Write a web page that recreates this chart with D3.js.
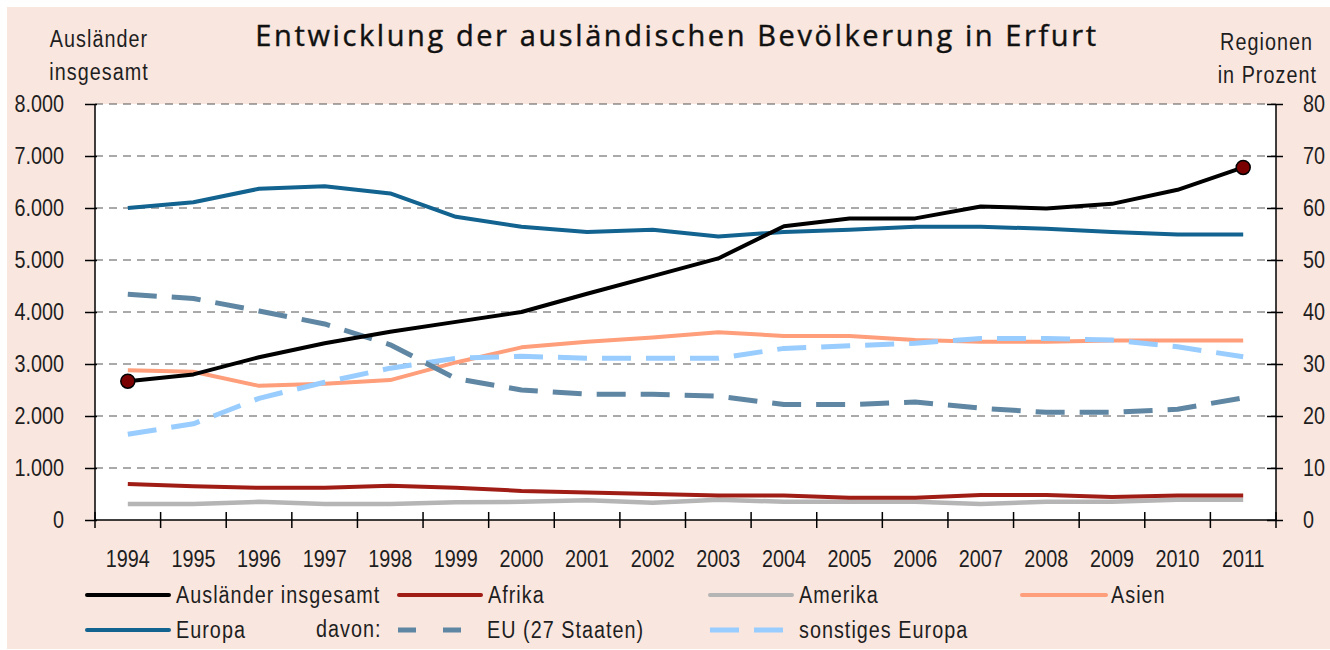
<!DOCTYPE html>
<html>
<head>
<meta charset="utf-8">
<script src="https://cdn.jsdelivr.net/npm/d3@7/dist/d3.min.js"></script>
<style>
  html, body { margin: 0; padding: 0; background: #ffffff; }
  svg { display: block; }
  .cond { font-family: "Liberation Sans", Arial, sans-serif; }
</style>
</head>
<body>
<svg id="chart" width="1330" height="650"></svg>
<script>
// ---------------- data ----------------
const years = [1994, 1995, 1996, 1997, 1998, 1999, 2000, 2001, 2002, 2003, 2004, 2005, 2006, 2007, 2008, 2009, 2010, 2011];
const auslaenderInsgesamt = [2670, 2800, 3130, 3400, 3620, 3810, 4000, 4350, 4690, 5030, 5650, 5800, 5800, 6030, 5990, 6080, 6350, 6780];
const afrika   = [6.9, 6.5, 6.2, 6.2, 6.6, 6.2, 5.6, 5.3, 5.0, 4.7, 4.7, 4.3, 4.3, 4.8, 4.8, 4.4, 4.7, 4.7];
const amerika  = [3.1, 3.1, 3.5, 3.1, 3.1, 3.4, 3.5, 3.8, 3.3, 3.9, 3.5, 3.5, 3.5, 3.1, 3.5, 3.5, 3.9, 3.9];
const asien    = [28.8, 28.5, 25.8, 26.2, 26.9, 30.3, 33.2, 34.3, 35.1, 36.1, 35.4, 35.4, 34.6, 34.3, 34.3, 34.5, 34.5, 34.5];
const europa   = [60.0, 61.1, 63.7, 64.2, 62.8, 58.3, 56.4, 55.4, 55.8, 54.5, 55.4, 55.8, 56.4, 56.4, 56.0, 55.4, 54.9, 54.9];
const eu27     = [43.4, 42.6, 40.2, 37.7, 33.7, 27.2, 25.0, 24.2, 24.2, 23.8, 22.2, 22.2, 22.7, 21.5, 20.7, 20.7, 21.3, 23.5];
const sonstEur = [16.5, 18.5, 23.4, 26.5, 29.2, 31.1, 31.5, 31.1, 31.1, 31.1, 33.0, 33.5, 34.0, 34.9, 34.9, 34.6, 33.3, 31.4];
const leftTicks  = [0, 1000, 2000, 3000, 4000, 5000, 6000, 7000, 8000];
const rightTicks = [0, 10, 20, 30, 40, 50, 60, 70, 80];

const titleText = "Entwicklung der ausländischen Bevölkerung in Erfurt";
const leftTitle = ["Ausländer", "insgesamt"];
const rightTitle = ["Regionen", "in Prozent"];

// ---------------- layout ----------------
const W = 1330, H = 650;
const P = { left: 95, right: 1276, top: 104, bottom: 520 };
const CF = 0.86; // horizontal condensing factor for the narrow label font
const svg = d3.select("#chart");

function condense(sel) {
  sel.each(function () {
    const t = d3.select(this);
    const x0 = +t.attr("x") || 0;
    t.attr("x", x0 / CF).attr("transform", `scale(${CF},1)`);
  });
}

svg.append("rect").attr("x", 7).attr("y", 7).attr("width", W - 7).attr("height", H - 8).attr("fill", "#f9e6de");
svg.append("rect").attr("x", P.left).attr("y", P.top).attr("width", P.right - P.left).attr("height", P.bottom - P.top).attr("fill", "#ffffff");

const x = d3.scaleBand().domain(years).range([P.left, P.right]).paddingInner(0).paddingOuter(0);
const yL = d3.scaleLinear().domain([0, 8000]).range([P.bottom, P.top]);
const yR = d3.scaleLinear().domain([0, 80]).range([P.bottom, P.top]);
const cx = d => x(d) + x.bandwidth() / 2;

// gridlines
svg.append("g").selectAll("line").data(leftTicks.filter(d => d > 0)).join("line")
  .attr("x1", P.left).attr("x2", P.right)
  .attr("y1", d => yL(d)).attr("y2", d => yL(d))
  .attr("stroke", "#555555").attr("stroke-width", 1).attr("stroke-dasharray", "8,6");

// axes
const fmt = d => d3.format(",")(d).replace(/,/g, ".");
const gL = svg.append("g").attr("transform", `translate(${P.left},0)`)
  .call(d3.axisLeft(yL).tickValues(leftTicks).tickFormat(fmt).tickSize(10).tickPadding(21));
gL.selectAll(".tick line").attr("x1", 2).attr("x2", -10);
const gR = svg.append("g").attr("transform", `translate(${P.right},0)`)
  .call(d3.axisRight(yR).tickValues(rightTicks).tickSize(7).tickPadding(20));
gR.selectAll(".tick line").attr("x1", -9).attr("x2", 7);
const gB = svg.append("g").attr("transform", `translate(0,${P.bottom})`)
  .call(d3.axisBottom(x).tickSize(0).tickPadding(30));
gB.selectAll(".tick line").remove();
gB.selectAll(".tick text").attr("y", 47).attr("dy", null);
// category boundary ticks
svg.append("g").selectAll("line").data(d3.range(0, years.length + 1)).join("line")
  .attr("x1", i => P.left + i * x.step()).attr("x2", i => P.left + i * x.step())
  .attr("y1", P.bottom - 8).attr("y2", P.bottom + 8)
  .attr("stroke", "#000").attr("stroke-width", 1.5);

[gL, gR, gB].forEach(g => {
  g.select(".domain").attr("stroke", "#000").attr("stroke-width", 1.5);
  g.selectAll(".tick line").attr("stroke", "#000").attr("stroke-width", 1.5);
  g.selectAll("text").attr("class", "cond").attr("font-size", 23).attr("fill", "#1e1e1e");
  condense(g.selectAll("text"));
});
gB.select(".domain").attr("d", `M${P.left},0H${P.right}`);
gL.select(".domain").attr("d", `M0,${P.bottom}V${P.top}`);
gR.select(".domain").attr("d", `M0,${P.bottom}V${P.top}`);

// series
const lineL = d3.line().x((d, i) => cx(years[i])).y(d => yL(d));
const lineR = d3.line().x((d, i) => cx(years[i])).y(d => yR(d));

const series = [
  { name: "Europa", data: europa, color: "#12638f", dash: null, legDash: null, scale: "R", w: 4 },
  { name: "Asien", data: asien, color: "#ff9e7a", dash: null, legDash: null, scale: "R", w: 4 },
  { name: "sonstiges Europa", data: sonstEur, color: "#99ccff", dash: "29,15", legDash: "29,15", scale: "R", w: 5 },
  { name: "EU (27 Staaten)", data: eu27, color: "#5f86a2", dash: "29,15", legDash: "18,27", scale: "R", w: 5 },
  { name: "Amerika", data: amerika, color: "#b5b5b5", dash: null, legDash: null, scale: "R", w: 4.5 },
  { name: "Afrika", data: afrika, color: "#a01d16", dash: null, legDash: null, scale: "R", w: 4 },
  { name: "Ausländer insgesamt", data: auslaenderInsgesamt, color: "#000000", dash: null, legDash: null, scale: "L", w: 4 }
];
svg.append("g").selectAll("path").data(series).join("path")
  .attr("d", s => s.scale === "L" ? lineL(s.data) : lineR(s.data))
  .attr("fill", "none")
  .attr("stroke", s => s.color)
  .attr("stroke-width", s => s.w)
  .attr("stroke-dasharray", s => s.dash)
  .attr("stroke-linejoin", "round");

// end markers
const markIdx = [0, years.length - 1];
svg.append("g").selectAll("circle").data(markIdx).join("circle")
  .attr("cx", i => cx(years[i])).attr("cy", i => yL(auslaenderInsgesamt[i]))
  .attr("r", 7).attr("fill", "#7a0000").attr("stroke", "#000").attr("stroke-width", 1.5);

// titles
svg.append("text").attr("x", 677).attr("y", 46).attr("text-anchor", "middle")
  .attr("font-family", "'Open Sans', 'Noto Sans', sans-serif").attr("font-size", 29)
  .style("letter-spacing", "2.6px").attr("fill", "#111").attr("stroke", "#111").attr("stroke-width", 0.4)
  .text(titleText);
const lt = svg.append("g").selectAll("text").data(leftTitle).join("text")
  .attr("class", "cond").attr("x", 99).attr("y", (d, i) => 47 + i * 33)
  .attr("text-anchor", "middle").attr("font-size", 23).style("letter-spacing", "1.2px")
  .attr("fill", "#1e1e1e").text(d => d);
condense(lt);
const rt = svg.append("g").selectAll("text").data(rightTitle).join("text")
  .attr("class", "cond").attr("x", (d, i) => i === 0 ? 1313 : 1317).attr("y", (d, i) => 50 + i * 33)
  .attr("text-anchor", "end").attr("font-size", 23).style("letter-spacing", "1.2px")
  .attr("fill", "#1e1e1e").text(d => d);
condense(rt);

// legend
const legendItems = [
  { s: series[6], x: 87, y: 595, len: 82 },
  { s: series[5], x: 399, y: 595, len: 82 },
  { s: series[4], x: 710, y: 595, len: 82 },
  { s: series[1], x: 1022, y: 595, len: 84 },
  { s: series[0], x: 87, y: 630, len: 82 },
  { s: series[3], x: 398, y: 630, len: 63 },
  { s: series[2], x: 710, y: 630, len: 73 }
];
const lg = svg.append("g").selectAll("g").data(legendItems).join("g");
lg.append("line")
  .attr("x1", d => d.x).attr("x2", d => d.x + d.len)
  .attr("y1", d => d.y).attr("y2", d => d.y)
  .attr("stroke", d => d.s.color).attr("stroke-width", d => d.s.dash ? 5 : 4)
  .attr("stroke-dasharray", d => d.s.legDash)
  .attr("stroke-linecap", d => d.s.dash ? "butt" : "round");
const ltx = lg.append("text").attr("class", "cond")
  .attr("x", d => d.x + 89).attr("y", d => d.y + 8)
  .attr("font-size", 23).style("letter-spacing", "1.2px").attr("fill", "#1e1e1e")
  .text(d => d.s.name);
condense(ltx);
const dv = svg.append("text").attr("class", "cond").attr("x", 316).attr("y", 637)
  .attr("font-size", 23).style("letter-spacing", "1.2px").attr("fill", "#1e1e1e").text("davon:");
condense(dv);
</script>
</body>
</html>
